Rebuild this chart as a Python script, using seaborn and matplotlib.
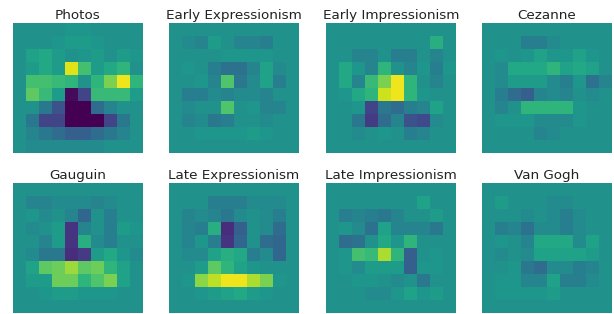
import numpy as np
import matplotlib
matplotlib.use('Agg')
import matplotlib.pyplot as plt
import seaborn as sns

# values, shared colour scale -1..1 (0 = teal background)
photos = [
    [0, 0, 0, 0, 0.05, 0.05, 0, 0, 0, 0],
    [0, 0, 0, 0.05, 0.1, 0.1, 0.05, 0, 0, 0],
    [0, 0.15, 0.2, 0.1, 0, 0.05, 0.1, 0, 0.1, 0.05],
    [0, 0.1, 0.2, 0.1, 0.9, 0.4, 0.1, 0.2, 0.3, 0],
    [0, 0.4, 0.4, 0.35, 0.3, 0.0, 0.3, 0.6, 0.95, 0.3],
    [0, 0.5, 0.35, 0.1, -0.95, -0.6, 0.35, 0.35, 0.35, 0.1],
    [0, 0, -0.2, -0.5, -1, -1, -0.3, -0.1, 0, 0],
    [0, -0.2, -0.6, -0.6, -1, -1, -1, -0.6, -0.2, 0],
    [0, -0.1, -0.2, -0.3, -0.4, -0.4, -0.3, -0.2, -0.1, 0],
    [0, -0.05, -0.05, -0.05, -0.05, -0.05, -0.05, 0, 0, 0],
]
early_expressionism = [
    [0, 0, 0, 0, 0, 0, 0, 0, 0, 0],
    [0, -0.05, -0.1, 0.1, 0, -0.1, -0.1, -0.15, 0, 0],
    [0, 0, 0, 0, 0.05, 0.05, 0.05, 0.05, 0, 0],
    [0, 0.05, 0, -0.15, -0.25, -0.25, -0.1, 0.15, -0.05, 0],
    [0, 0, 0.05, -0.1, 0.45, -0.2, -0.05, 0.15, -0.15, 0],
    [0, -0.15, -0.15, -0.05, -0.1, -0.05, -0.05, -0.1, 0, 0],
    [0, -0.05, 0, 0, 0.45, 0, 0.05, -0.1, -0.1, 0],
    [0, -0.1, -0.05, -0.2, -0.15, 0, 0, -0.05, 0, 0],
    [0, 0, 0.05, 0.05, 0.05, 0.05, 0.1, 0.05, 0, 0],
    [0, 0, 0, 0, 0, 0, 0, 0, 0, 0],
]
early_impressionism = [
    [0, 0, 0, 0, 0, 0, 0, 0, 0, 0],
    [0, 0, 0, 0, 0, 0, 0, 0, 0.25, 0],
    [0, 0, -0.1, -0.1, 0, -0.15, -0.15, 0, -0.1, 0],
    [0, 0.2, 0.05, -0.1, 0.3, 0, -0.1, 0.05, -0.15, 0.05],
    [0, 0.2, -0.1, 0.35, 0.6, 0.95, 0.3, 0, -0.1, 0],
    [0, 0.05, 0.2, 0.3, 0.85, 0.95, 0.3, 0.05, 0, 0],
    [0, 0, 0.05, -0.6, -0.2, -0.3, -0.15, -0.1, 0.15, 0],
    [0, 0, -0.2, -0.65, -0.3, -0.1, -0.5, -0.55, -0.05, 0],
    [0, 0, -0.05, 0, 0.05, 0, -0.15, -0.1, 0, 0],
    [0, 0, 0, 0, 0, 0, 0, 0, 0, 0],
]
cezanne = [
    [0, 0, 0, 0, 0, 0, 0, 0, 0, 0],
    [0, 0, 0, -0.15, -0.15, -0.05, 0, 0, 0, 0],
    [0, 0.05, 0, 0.05, 0.15, 0.05, 0.05, 0.15, 0.05, 0],
    [0, -0.05, 0.2, 0.2, 0.2, 0.3, 0.15, 0.2, 0.15, 0],
    [0, -0.05, 0.1, 0.1, 0.1, -0.05, -0.15, 0.05, -0.25, -0.1],
    [0, -0.15, -0.3, -0.4, -0.1, -0.05, -0.1, 0, -0.05, 0],
    [0, -0.1, 0, 0.3, 0.3, 0.3, 0.3, 0.05, 0, 0],
    [0, 0.05, 0.05, 0.05, -0.05, -0.05, -0.05, 0.05, 0, 0],
    [0, 0, 0, 0, -0.1, -0.05, 0, 0, 0, 0],
    [0, 0, 0, 0, 0, 0, 0, 0, 0, 0],
]
gauguin = [
    [0, 0, 0, 0, 0, 0, 0, 0, 0, 0],
    [0, -0.1, -0.1, -0.05, -0.05, -0.05, -0.1, -0.05, 0, 0],
    [0, 0.05, -0.05, 0, -0.1, -0.35, 0, -0.15, 0, 0],
    [0, -0.05, 0, 0.1, -0.7, -0.1, 0, -0.15, 0.1, 0.05],
    [0, 0, -0.1, 0.1, -0.7, 0.25, -0.05, -0.15, 0, 0],
    [0, -0.05, -0.2, -0.2, -0.75, -0.65, 0.1, 0.2, 0.05, -0.05],
    [0, 0.15, 0.5, 0.55, 0.7, 0.5, 0.55, 0.3, 0.15, 0],
    [0, 0.1, 0.1, 0.55, 0.55, 0.3, 0.45, 0.6, 0.15, 0],
    [0, 0, 0.05, 0.1, 0.1, 0.05, 0.05, 0.05, 0, 0],
    [0, 0, 0, 0, 0, 0, 0, 0, 0, 0],
]
late_expressionism = [
    [0, 0, 0, 0, 0, 0, 0, 0, 0, 0],
    [0, 0, 0, -0.15, -0.15, -0.15, -0.05, -0.05, -0.05, 0],
    [0, -0.1, -0.05, -0.1, -0.2, -0.05, 0, -0.05, -0.15, 0],
    [0, -0.1, -0.15, 0.25, -0.75, -0.4, 0, -0.05, -0.3, 0],
    [0, -0.1, 0.05, -0.15, -0.7, -0.35, 0, -0.3, -0.35, 0],
    [0, -0.05, -0.05, 0.15, 0.25, 0.2, -0.15, -0.05, -0.35, 0],
    [0, 0, 0.1, 0.5, 0.3, 0.15, 0.05, 0, 0, 0],
    [0, 0.05, 0.65, 0.8, 0.95, 0.95, 0.75, 0.6, 0.05, 0],
    [0, 0, 0.05, 0.1, 0.15, 0.2, 0.1, 0.05, 0, 0],
    [0, 0, 0, 0, 0, 0, 0, 0, 0, 0],
]
late_impressionism = [
    [0, 0, 0, 0, 0, 0, 0, 0, 0, 0],
    [0, 0, 0, 0, 0, 0, 0, 0.15, 0, 0],
    [0, -0.15, -0.1, -0.15, -0.2, -0.1, 0, 0, 0.1, 0],
    [0, 0.05, -0.05, -0.25, 0.15, -0.1, -0.1, -0.1, -0.2, 0],
    [0, -0.3, -0.25, 0, 0.2, 0.05, 0.3, 0, 0, 0],
    [0, 0.05, 0.4, 0.35, 0.75, 0.3, -0.4, 0, 0.05, 0],
    [0, 0.05, -0.05, 0.1, 0.1, 0.1, -0.4, 0.05, 0.05, 0],
    [0, 0, 0.05, 0.05, 0, -0.05, 0, -0.2, 0, 0],
    [0, 0, 0, -0.05, -0.05, 0.05, 0.15, 0.05, 0.1, 0],
    [0, 0, 0, 0, 0, 0, 0, 0, 0, 0],
]
van_gogh = [
    [0, 0, 0, 0, 0, 0, 0, 0, 0, 0],
    [0, 0.1, 0, 0, 0, -0.05, -0.05, 0, 0, 0],
    [0, 0, 0, -0.05, 0, -0.05, -0.15, -0.05, 0, 0],
    [0, -0.15, -0.1, -0.25, -0.05, -0.05, -0.15, -0.05, 0, 0],
    [0, 0.05, 0, -0.1, 0.2, 0.2, 0.2, -0.05, 0.15, 0],
    [0, -0.05, 0, -0.05, 0.15, 0.15, 0.15, 0.15, 0.1, 0],
    [0, 0, 0.05, -0.2, -0.3, -0.05, -0.05, -0.15, -0.1, 0],
    [0, 0.05, 0.05, -0.1, -0.1, 0.15, -0.15, -0.15, -0.05, 0],
    [0, 0.05, 0.05, 0.05, 0.05, 0.1, 0, 0, 0, 0],
    [0, 0, 0, 0, 0, 0, 0, 0, 0, 0],
]

titles = ['Photos', 'Early Expressionism', 'Early Impressionism', 'Cezanne',
          'Gauguin', 'Late Expressionism', 'Late Impressionism', 'Van Gogh']
grids = [photos, early_expressionism, early_impressionism, cezanne,
         gauguin, late_expressionism, late_impressionism, van_gogh]

W, H = 614, 314
fig = plt.figure(figsize=(W / 100, H / 100), dpi=100)

lefts = [13, 169, 326, 482]
tops = [23, 183]
size = 130

for i, (title, grid) in enumerate(zip(titles, grids)):
    r, c = divmod(i, 4)
    ax = fig.add_axes([lefts[c] / W, 1 - (tops[r] + size) / H, size / W, size / H])
    sns.heatmap(np.array(grid), ax=ax, cmap='viridis', vmin=-1, vmax=1,
                cbar=False, xticklabels=False, yticklabels=False)
    ax.set_title(title, fontsize=9.7, pad=3, color='#222222')

fig.savefig('out.png', dpi=100)
